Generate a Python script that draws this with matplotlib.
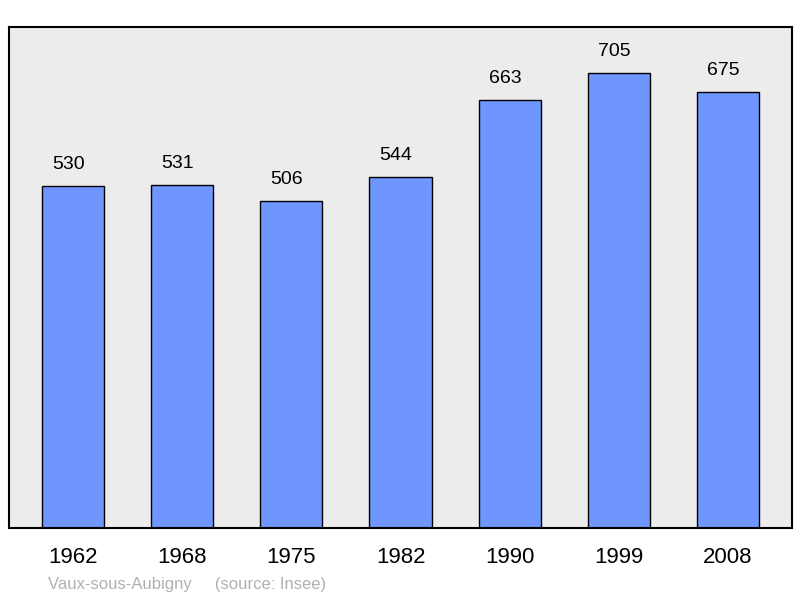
import matplotlib.pyplot as plt

years = ['1962', '1968', '1975', '1982', '1990', '1999', '2008']
population = [530, 531, 506, 544, 663, 705, 675]

fig = plt.figure(figsize=(8, 5.98), dpi=100)
ax = fig.add_axes([9 / 800, 1 - 528 / 598, 783 / 800, 501 / 598])
ax.set_facecolor('#ececec')

x = range(len(years))
ax.bar(x, population, width=0.57, color='#6f96ff', edgecolor='black', linewidth=1)
for xi, v in zip(x, population):
    ax.text(xi - 0.04, v + 20, str(v), ha='center', va='bottom', fontsize=14, family='Liberation Sans')

ax.set_xlim(-0.585, 6.585)
ax.set_ylim(0, 776)
ax.set_yticks([])
ax.set_xticks(list(x))
ax.set_xticklabels(years, fontsize=16, family='Liberation Sans')
ax.tick_params(axis='x', length=0, pad=14)
for s in ax.spines.values():
    s.set_linewidth(1.5)

fig.text(48 / 800, 1 - 584 / 598, 'Vaux-sous-Aubigny     (source: Insee)', color='#b0b0b0',
         fontsize=12, family='Liberation Sans', va='center')

fig.savefig('out.png', dpi=100)
